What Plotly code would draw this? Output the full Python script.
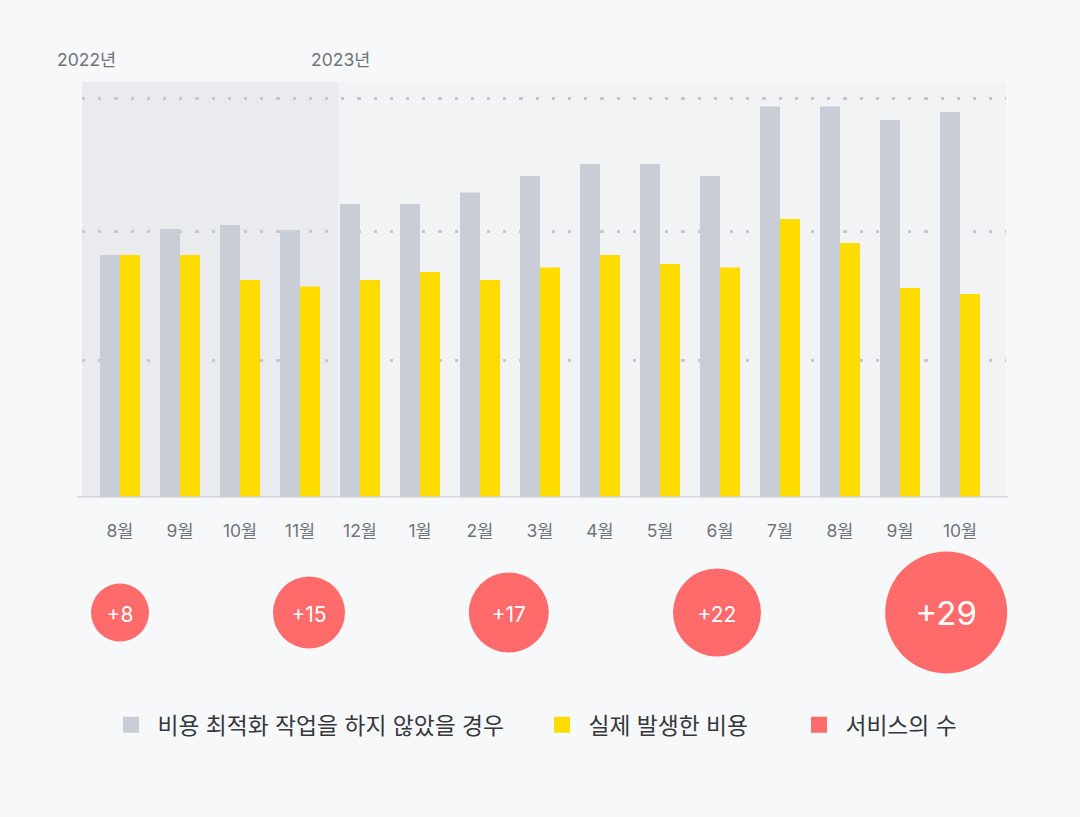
import plotly.graph_objects as go

# ---- data ----
months = ["8월", "9월", "10월", "11월", "12월", "1월", "2월", "3월", "4월",
          "5월", "6월", "7월", "8월", "9월", "10월"]
month_ids = [f"{i}" for i in range(len(months))]
cost_without_opt = [242.5, 268.5, 272.5, 267.5, 293.5, 293.5, 305, 321.5, 333.5,
                    333.5, 321.5, 391, 391, 377.5, 385.5]
cost_actual = [242.5, 242.5, 217.5, 211, 217.5, 225.5, 217.5, 230, 242.5,
               233.5, 230, 278.5, 254.5, 209.5, 203.5]
service_pos = [0, 3.15, 6.48, 9.95, 13.77]
service_count = [8, 15, 17, 22, 29]
service_labels = [f"+{v}" for v in service_count]
grid_vals = [137, 266, 399]
year_labels = ["2022년", "2023년"]
legend_names = ["비용 최적화 작업을 하지 않았을 경우", "실제 발생한 비용", "서비스의 수"]

# ---- styles ----
GRAY = "#c9ced6"
YELLOW = "#ffdc00"
RED = "#ff6b6b"
PAPER = "#f7f8fa"
PLOT = "#f1f3f5"
SHADE = "#e9ebee"
KR = "Inter, 'Noto Sans CJK KR', sans-serif"
W, H = 1080, 817

bubble_diam = [58, 72, 80, 88, 122]
bubble_font = [21, 21, 21, 21, 33]
label_dy = 0.06  # small downward nudge of bubble labels (axis units)

x_left, x_right = 82, 1006
y_top, y_bot = 82, 497.5
xr = [(x_left - 120) / 60, (x_right - 120) / 60]

fig = go.Figure()
fig.add_trace(go.Bar(x=month_ids, y=cost_without_opt, marker_color=GRAY,
                     marker_line_width=0, showlegend=False, hoverinfo="skip"))
fig.add_trace(go.Bar(x=month_ids, y=cost_actual, marker_color=YELLOW,
                     marker_line_width=0, showlegend=False, hoverinfo="skip"))
fig.add_trace(go.Scatter(x=service_pos, y=[0] * len(service_pos), xaxis="x2", yaxis="y2",
                         mode="markers",
                         marker=dict(size=bubble_diam, color=RED, line_width=0, opacity=1),
                         cliponaxis=False, showlegend=False, hoverinfo="skip"))
fig.add_trace(go.Scatter(x=service_pos, y=[-label_dy] * len(service_pos), xaxis="x2", yaxis="y2",
                         mode="text", text=service_labels, textposition="middle center",
                         textfont=dict(color="white", size=bubble_font, family=KR),
                         cliponaxis=False, showlegend=False, hoverinfo="skip"))

# legend-only traces
for i, (nm, col) in enumerate(zip(legend_names, [GRAY, YELLOW, RED])):
    fig.add_trace(go.Scatter(x=[None], y=[None], mode="markers", name="\u00a0" + nm,
                             marker=dict(symbol="square", size=21, color=col, line_width=0),
                             legend="legend" if i == 0 else f"legend{i+1}",
                             showlegend=True))

legend_x = [111, 542, 799]
leg_common = dict(orientation="h", xanchor="left", yanchor="middle", y=1 - 725 / H,
                  bgcolor="rgba(0,0,0,0)", borderwidth=0,
                  font=dict(size=22.8, color="#34373c", family=KR))

year_font = dict(size=17.5, color="#6f747c", family=KR)

fig.update_layout(
    width=W, height=H,
    paper_bgcolor=PAPER, plot_bgcolor=PAPER,
    margin=dict(l=0, r=0, t=0, b=0, pad=0, autoexpand=False),
    barmode="group", bargap=1 / 3, bargroupgap=0,
    xaxis=dict(domain=[x_left / W, x_right / W], type="category", range=xr,
               tickmode="array", tickvals=month_ids, ticktext=months,
               showgrid=False, zeroline=False, showline=False, ticks="",
               ticklabelstandoff=21,
               tickfont=dict(size=17.5, color="#6f747c", family=KR), fixedrange=True),
    yaxis=dict(domain=[1 - y_bot / H, 1 - y_top / H], range=[0, y_bot - y_top],
               tickmode="array", tickvals=grid_vals, showticklabels=False,
               showgrid=True, gridcolor="#c4c8ce", gridwidth=3.2, griddash="3.2px,13px",
               zeroline=False, showline=False, ticks=""),
    xaxis2=dict(domain=[x_left / W, x_right / W], range=xr, anchor="y2", visible=False),
    yaxis2=dict(domain=[1 - 682.5 / H, 1 - 542.5 / H], range=[-1, 1], anchor="x2", visible=False),
    legend=dict(x=legend_x[0] / W, **leg_common),
    legend2=dict(x=legend_x[1] / W, **leg_common),
    legend3=dict(x=legend_x[2] / W, **leg_common),
    shapes=[
        dict(type="rect", xref="x domain", yref="y domain", x0=0, x1=1,
             y0=0, y1=1, fillcolor=PLOT, line_width=0, layer="below"),
        dict(type="rect", xref="x", yref="y domain", x0=xr[0], x1=(338.3 - 120) / 60,
             y0=0, y1=1, fillcolor=SHADE, line_width=0, layer="below"),
        dict(type="line", xref="paper", yref="y", x0=77 / W, x1=1008 / W, y0=0, y1=0,
             line=dict(color="#cfd2d7", width=2.5), layer="above"),
    ],
    annotations=[
        dict(text=year_labels[0], xref="paper", yref="paper", x=55 / W, y=1 - 60 / H,
             xanchor="left", yanchor="middle", showarrow=False, font=year_font),
        dict(text=year_labels[1], xref="paper", yref="paper", x=309 / W, y=1 - 60 / H,
             xanchor="left", yanchor="middle", showarrow=False, font=year_font),
    ],
)

fig.write_html("out.html")
